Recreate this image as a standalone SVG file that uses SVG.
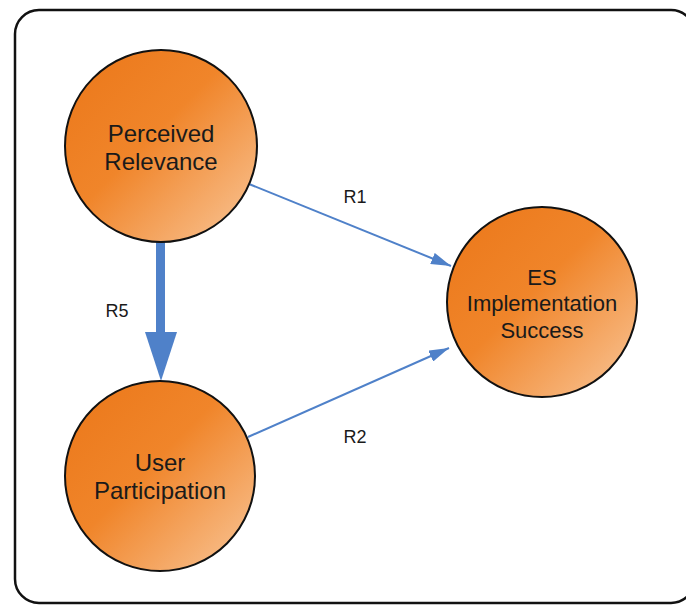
<svg xmlns="http://www.w3.org/2000/svg" width="686" height="606" viewBox="0 0 686 606">
  <defs>
    <linearGradient id="og" x1="0" y1="0" x2="1" y2="1">
      <stop offset="0" stop-color="#EB7719"/>
      <stop offset="0.45" stop-color="#F0852A"/>
      <stop offset="1" stop-color="#F9C79A"/>
    </linearGradient>
    <marker id="ah" viewBox="0 0 20 12" refX="20" refY="6" markerWidth="20" markerHeight="12" markerUnits="userSpaceOnUse" orient="auto">
      <path d="M0,0 L20,6 L0,12 Z" fill="#4F81C9"/>
    </marker>
  </defs>
  <style>
    .node circle { fill: url(#og); stroke: #111; stroke-width: 2; }
    .node text { font-family: "Liberation Sans", Arial, sans-serif; font-size: 24px; fill: #1a1a1a; text-anchor: middle; }
    .node text.sm { font-size: 22px; }
    .lbl { font-family: "Liberation Sans", Arial, sans-serif; font-size: 18px; fill: #1a1a1a; text-anchor: middle; }
    .edge { stroke: #4F81C9; stroke-width: 2; fill: none; }
  </style>
  <rect x="15" y="10" width="680" height="593" rx="24" ry="24" fill="#fff" stroke="#111" stroke-width="2.5"/>

  <g id="connectors">
    <line class="edge" x1="249" y1="184" x2="451" y2="266" marker-end="url(#ah)"/>
    <line class="edge" x1="248" y1="437" x2="449" y2="348" marker-end="url(#ah)"/>
    <rect x="156" y="241" width="9" height="92" fill="#4F81C9"/>
    <path d="M145,332 L177,332 L161,381 Z" fill="#4F81C9"/>
    <text class="lbl" x="355" y="203">R1</text>
    <text class="lbl" x="355" y="443">R2</text>
    <text class="lbl" x="117" y="317">R5</text>
  </g>

  <g id="perceived-relevance" class="node">
    <circle cx="161" cy="146" r="96"/>
    <text x="161" y="142">Perceived</text>
    <text x="161" y="170">Relevance</text>
  </g>

  <g id="user-participation" class="node">
    <circle cx="160" cy="476" r="95"/>
    <text x="160" y="471">User</text>
    <text x="160" y="499">Participation</text>
  </g>

  <g id="es-implementation-success" class="node">
    <circle cx="542" cy="302" r="95"/>
    <text class="sm" x="542" y="285">ES</text>
    <text class="sm" x="542" y="311">Implementation</text>
    <text class="sm" x="542" y="338">Success</text>
  </g>
</svg>
